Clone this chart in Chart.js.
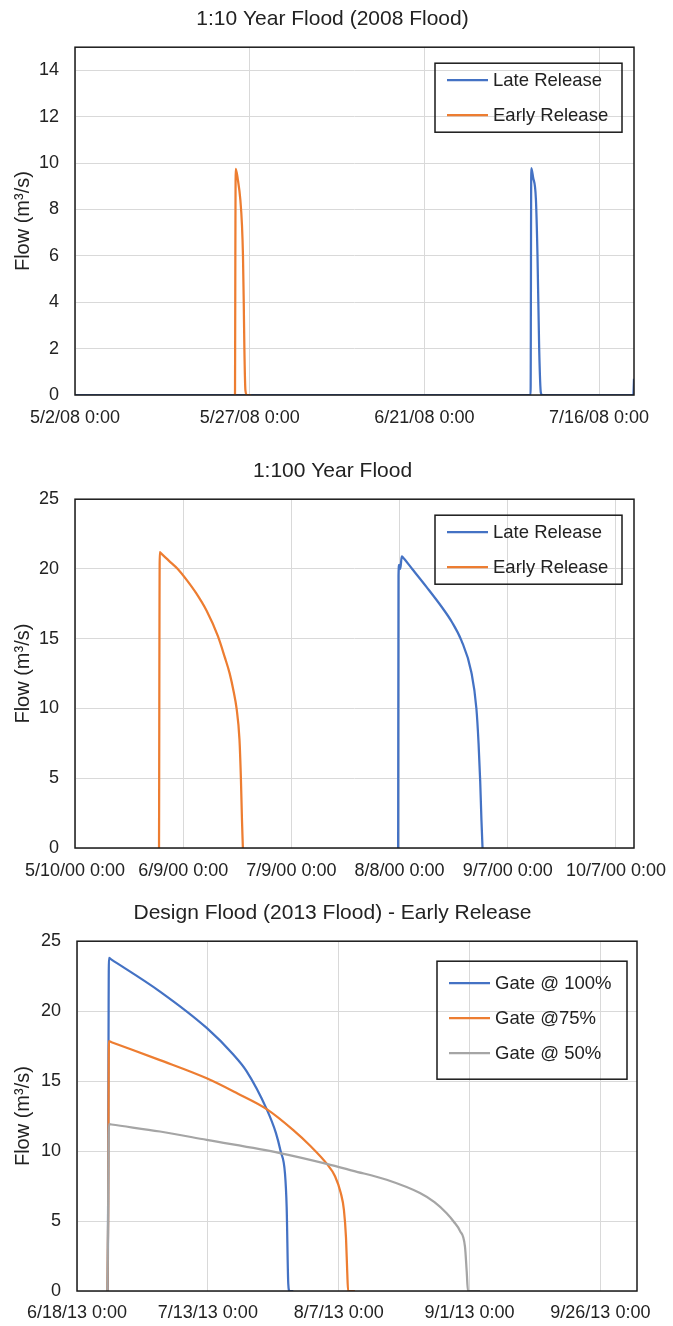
<!DOCTYPE html>
<html>
<head>
<meta charset="utf-8">
<script src="https://cdn.jsdelivr.net/npm/chart.js@4.4.0/dist/chart.umd.min.js"></script>
<style>
    body { margin: 0; background: #fff; width: 673px; height: 1326px; position: relative; overflow: hidden; }
    .box { position: absolute; left: 0; width: 673px; }
</style>
</head>
<body>
<div class="box" style="top:0;height:443px"><canvas id="c1"></canvas></div>
<div class="box" style="top:452px;height:443px"><canvas id="c2"></canvas></div>
<div class="box" style="top:894px;height:432px"><canvas id="c3"></canvas></div>
<script>
const FONT = "'Liberation Sans', Arial, sans-serif";
const TEXT = '#222';
const BLUE = '#4472C4', ORANGE = '#ED7D31', GREY = '#A5A5A5';

// --- 1:10 year flood, x = days since 5/2/08 0:00 ---
const ticks10 = [0, 25, 50, 75];
const tickLabels10 = ['5/2/08 0:00', '5/27/08 0:00', '6/21/08 0:00', '7/16/08 0:00'];
const yTicks10 = [0, 2, 4, 6, 8, 10, 12, 14];
const late10Days = [0, 65.2, 65.3, 65.55, 65.96, 66.19, 66.43, 66.67, 66.9, 67.6, 79.9, 80];
const late10Flow = [0, 0, 9.78, 9.4, 8.45, 6.0, 2.0, 0.1, 0, 0, 0, 0.7];
const early10Days = [22.9, 23.0, 23.3, 23.67, 23.9, 24.04, 24.15, 24.24, 24.39, 24.6, 25.2];
const early10Flow = [0, 9.75, 9.3, 8.4, 7.3, 6.0, 4.0, 2.0, 0.2, 0, 0];

// --- 1:100 year flood, x = days since 5/10/00 0:00 ---
const ticks100 = [0, 30, 60, 90, 120, 150];
const tickLabels100 = ['5/10/00 0:00', '6/9/00 0:00', '7/9/00 0:00', '8/8/00 0:00', '9/7/00 0:00', '10/7/00 0:00'];
const yTicks100 = [0, 5, 10, 15, 20, 25];
const late100Days = [89.6, 89.7, 89.9, 90.2, 90.6, 91.0, 93.5, 97.5, 101.9, 104.5, 107.1, 109.9, 111.3, 111.9, 112.35, 112.7, 113.0];
const late100Flow = [0, 19.5, 20.3, 20.0, 20.9, 20.8, 20.0, 18.7, 17.2, 16.2, 14.9, 12.6, 10.0, 7.5, 4.8, 2.0, 0];
const early100Days = [23.3, 23.5, 23.8, 26, 28.5, 31, 33.5, 36.5, 39.6, 41.5, 42.9, 44.0, 44.8, 45.6, 46.0, 46.3, 46.55];
const early100Flow = [0, 21.2, 21.13, 20.6, 20.0, 19.2, 18.3, 17.0, 15.2, 13.7, 12.5, 11.2, 10.0, 7.8, 5.0, 2.0, 0];

// --- design flood, x = days since 6/18/13 0:00 ---
const ticksDesign = [0, 25, 50, 75, 100];
const tickLabelsDesign = ['6/18/13 0:00', '7/13/13 0:00', '8/7/13 0:00', '9/1/13 0:00', '9/26/13 0:00'];
const yTicksDesign = [0, 5, 10, 15, 20, 25];
const gate100Days = [5.85, 5.9, 6.1, 6.6, 15.86, 24.78, 29.86, 32.42, 36.24, 38.0, 38.9, 39.74, 40.06, 40.37, 40.6, 41.33];
const gate100Flow = [0, 1.6, 23.8, 23.68, 21.4, 18.8, 16.9, 15.7, 13.0, 11.3, 10.0, 8.4, 6.0, 0.5, 0, 0];
const gate75Days = [5.8, 5.95, 6.1, 6.6, 15.86, 24.78, 30.5, 36.24, 41.33, 44.5, 47.71, 49.3, 50.4, 51.0, 51.4, 51.64, 51.8, 53.1];
const gate75Flow = [0, 5, 17.85, 17.78, 16.5, 15.2, 14.15, 13.0, 11.5, 10.4, 9.1, 8.2, 7.0, 5.8, 3.8, 1.3, 0, 0];
const gate50Days = [5.8, 5.87, 6.1, 6.6, 15.86, 24.78, 38.78, 47.71, 52.79, 59.17, 65.53, 68.3, 70.63, 72.0, 73.17, 74.13, 74.46, 74.7, 77.0];
const gate50Flow = [0, 2.0, 11.93, 11.9, 11.4, 10.8, 9.86, 9.09, 8.59, 7.95, 7.0, 6.35, 5.56, 4.95, 4.3, 3.17, 1.4, 0, 0];

const pts = (days, flow) => days.map((d, i) => ({ x: d, y: flow[i] }));

// cadre de la zone de tracé
const frame = {
    id: 'frame',
    afterDraw(chart) {
        const { ctx, chartArea: a } = chart;
        ctx.save();
        ctx.strokeStyle = '#1a1a1a';
        ctx.lineWidth = 1.5;
        ctx.strokeRect(a.left, a.top, a.width, a.height);
        ctx.restore();
    }
};

// légende encadrée dans le coin haut droit
const boxLegend = {
    id: 'boxLegend',
    afterDraw(chart, args, o) {
        const { ctx, chartArea: a } = chart;
        const x = a.right - o.right - o.width, y = a.top + o.top;
        ctx.save();
        ctx.strokeStyle = '#1a1a1a';
        ctx.lineWidth = 1.5;
        ctx.strokeRect(x, y, o.width, o.height);
        ctx.font = `18.5px ${FONT}`;
        ctx.textBaseline = 'middle';
        ctx.fillStyle = TEXT;
        chart.data.datasets.forEach((ds, i) => {
            const ry = y + o.first + i * o.gap;
            ctx.strokeStyle = ds.borderColor;
            ctx.lineWidth = 2.25;
            ctx.beginPath();
            ctx.moveTo(x + 12, ry);
            ctx.lineTo(x + 53, ry);
            ctx.stroke();
            ctx.fillText(ds.label, x + 58, ry + 1);
        });
        ctx.restore();
    }
};

function serie(label, data, color, order) {
    return {
        label, data, order,
        borderColor: color,
        backgroundColor: color,
        borderWidth: 2.25,
        borderJoinStyle: 'round',
        pointRadius: 0,
        cubicInterpolationMode: 'monotone',
        fill: false
    };
}

function makeChart(id, c) {
    new Chart(document.getElementById(id), {
        type: 'line',
        data: { datasets: c.datasets },
        plugins: [frame, boxLegend],
        options: {
            responsive: true,
            maintainAspectRatio: false,
            animation: false,
            layout: { padding: { left: 0, right: 8, top: 0, bottom: 0 } },
            plugins: {
                legend: { display: false },
                tooltip: { enabled: false },
                title: {
                    display: true,
                    text: c.title,
                    color: TEXT,
                    font: { family: FONT, size: 21, weight: 'normal' },
                    padding: { top: 7, bottom: 15 }
                },
                boxLegend: c.legend
            },
            scales: {
                x: {
                    type: 'linear',
                    min: 0,
                    max: c.xMax,
                    afterBuildTicks: s => { s.ticks = c.xTicks.map(v => ({ value: v })); },
                    afterFit: s => {
                        s.height = c.xAxisHeight;
                        s.paddingLeft = 0;
                        s.paddingRight = 0;
                    },
                    grid: { color: '#d9d9d9', lineWidth: 1, drawTicks: false },
                    border: { display: false },
                    ticks: {
                        autoSkip: false,
                        maxRotation: 0,
                        padding: c.xPad,
                        color: TEXT,
                        font: { family: FONT, size: 18 },
                        callback: (v, i) => c.xLabels[i]
                    }
                },
                y: {
                    min: 0,
                    max: c.yMax,
                    afterBuildTicks: s => { s.ticks = c.yTicks.map(v => ({ value: v })); },
                    afterFit: s => { s.width = c.yAxisWidth; },
                    grid: { color: '#d9d9d9', lineWidth: 1, drawTicks: false },
                    border: { display: false },
                    ticks: {
                        padding: 16,
                        color: TEXT,
                        font: { family: FONT, size: 18 }
                    },
                    title: {
                        display: true,
                        text: 'Flow (m³/s)',
                        color: TEXT,
                        font: { family: FONT, size: 20 },
                        padding: { top: 11, bottom: 0 }
                    }
                },
                // marge droite vide, pour garder le titre centré comme l'original
                marge: {
                    position: 'right',
                    afterFit: s => { s.width = c.rightPad - 8; },
                    grid: { display: false },
                    border: { display: false },
                    ticks: { display: false }
                }
            }
        }
    });
}

makeChart('c1', {
    title: '1:10 Year Flood (2008 Flood)',
    datasets: [
        serie('Late Release', pts(late10Days, late10Flow), BLUE, 1),
        serie('Early Release', pts(early10Days, early10Flow), ORANGE, 0)
    ],
    xMax: 80, xTicks: ticks10, xLabels: tickLabels10,
    yMax: 15, yTicks: yTicks10,
    yAxisWidth: 75, xAxisHeight: 48, rightPad: 39, xPad: 12,
    legend: { right: 12, top: 16, width: 187, height: 69, first: 17, gap: 35 }
});

makeChart('c2', {
    title: '1:100 Year Flood',
    datasets: [
        serie('Late Release', pts(late100Days, late100Flow), BLUE, 1),
        serie('Early Release', pts(early100Days, early100Flow), ORANGE, 0)
    ],
    xMax: 155, xTicks: ticks100, xLabels: tickLabels100,
    yMax: 25, yTicks: yTicks100,
    yAxisWidth: 75, xAxisHeight: 47, rightPad: 39, xPad: 12,
    legend: { right: 12, top: 16, width: 187, height: 69, first: 17, gap: 35 }
});

makeChart('c3', {
    title: 'Design Flood (2013 Flood) - Early Release',
    datasets: [
        serie('Gate @ 100%', pts(gate100Days, gate100Flow), BLUE, 2),
        serie('Gate @75%', pts(gate75Days, gate75Flow), ORANGE, 1),
        serie('Gate @ 50%', pts(gate50Days, gate50Flow), GREY, 0)
    ],
    xMax: 107, xTicks: ticksDesign, xLabels: tickLabelsDesign,
    yMax: 25, yTicks: yTicksDesign,
    yAxisWidth: 77, xAxisHeight: 35, rightPad: 36, xPad: 11,
    legend: { right: 10, top: 20, width: 190, height: 118, first: 22, gap: 35 }
});
</script>
</body>
</html>
